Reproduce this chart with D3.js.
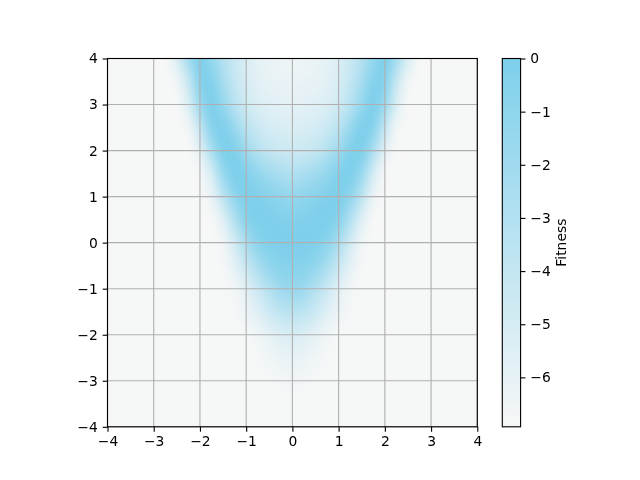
<!DOCTYPE html>
<html>
<head>
<meta charset="utf-8">
<script src="https://cdn.jsdelivr.net/npm/d3@7"></script>
<style>
  body { margin: 0; background: #ffffff; }
  #wrap { position: relative; width: 640px; height: 480px; }
  #wrap canvas, #wrap svg { position: absolute; left: 0; top: 0; }
  text { font-family: "DejaVu Sans", sans-serif; }
</style>
</head>
<body>
<div id="wrap">
  <canvas id="heat" width="640" height="480"></canvas>
  <svg id="chart" width="640" height="480"></svg>
</div>
<script>
// ---------------- data ----------------
const xValues = [-4,-3.75,-3.5,-3.25,-3,-2.75,-2.5,-2.25,-2,-1.75,-1.5,-1.25,-1,-0.75,-0.5,-0.25,0,0.25,0.5,0.75,1,1.25,1.5,1.75,2,2.25,2.5,2.75,3,3.25,3.5,3.75,4];
const yValues = [4,3.5,3,2.5,2,1.5,1,0.5,0,-0.5,-1,-1.5,-2,-2.5,-3,-3.5,-4];

// fitness[row for yValues][column for xValues]
const fitness = [
  [-6.9,-6.9,-6.9,-6.9,-6.9,-6.85,-5.3,-2.2,0,-1.3,-3.0,-4.4,-5.3,-5.9,-6.2,-6.35,-6.4,-6.35,-6.2,-5.9,-5.3,-4.4,-3.0,-1.3,0,-2.2,-5.3,-6.85,-6.9,-6.9,-6.9,-6.9,-6.9],
  [-6.9,-6.9,-6.9,-6.9,-6.9,-6.9,-6.5,-4.2,-0.5,-0.4,-2.4,-4.0,-5.1,-5.7,-6.0,-6.15,-6.2,-6.15,-6.0,-5.7,-5.1,-4.0,-2.4,-0.4,-0.5,-4.2,-6.5,-6.9,-6.9,-6.9,-6.9,-6.9,-6.9],
  [-6.9,-6.9,-6.9,-6.9,-6.9,-6.9,-6.9,-5.3,-1.7,0,-1.3,-3.3,-4.6,-5.3,-5.6,-5.8,-5.9,-5.8,-5.6,-5.3,-4.6,-3.3,-1.3,0,-1.7,-5.3,-6.9,-6.9,-6.9,-6.9,-6.9,-6.9,-6.9],
  [-6.9,-6.9,-6.9,-6.9,-6.9,-6.9,-6.9,-6.6,-4.0,-0.6,-0.05,-1.6,-3.4,-4.4,-5.0,-5.2,-5.3,-5.2,-5.0,-4.4,-3.4,-1.6,-0.05,-0.6,-4.0,-6.6,-6.9,-6.9,-6.9,-6.9,-6.9,-6.9,-6.9],
  [-6.9,-6.9,-6.9,-6.9,-6.9,-6.9,-6.9,-6.9,-5.8,-2.6,-0.1,-0.2,-1.8,-3.1,-3.9,-4.3,-4.5,-4.3,-3.9,-3.1,-1.8,-0.2,-0.1,-2.6,-5.8,-6.9,-6.9,-6.9,-6.9,-6.9,-6.9,-6.9,-6.9],
  [-6.9,-6.9,-6.9,-6.9,-6.9,-6.9,-6.9,-6.9,-6.8,-5.0,-1.6,0,-0.3,-1.2,-2.0,-2.6,-2.9,-2.6,-2.0,-1.2,-0.3,0,-1.6,-5.0,-6.8,-6.9,-6.9,-6.9,-6.9,-6.9,-6.9,-6.9,-6.9],
  [-6.9,-6.9,-6.9,-6.9,-6.9,-6.9,-6.9,-6.9,-6.9,-6.2,-3.6,-1.0,0,-0.2,-0.6,-1.0,-1.3,-1.0,-0.6,-0.2,0,-1.0,-3.6,-6.2,-6.9,-6.9,-6.9,-6.9,-6.9,-6.9,-6.9,-6.9,-6.9],
  [-6.9,-6.9,-6.9,-6.9,-6.9,-6.9,-6.9,-6.9,-6.9,-6.9,-5.6,-3.0,-0.6,0,-0.05,-0.2,-0.35,-0.2,-0.05,0,-0.6,-3.0,-5.6,-6.9,-6.9,-6.9,-6.9,-6.9,-6.9,-6.9,-6.9,-6.9,-6.9],
  [-6.9,-6.9,-6.9,-6.9,-6.9,-6.9,-6.9,-6.9,-6.9,-6.9,-6.5,-4.8,-2.5,-0.8,-0.15,-0.03,0,-0.03,-0.15,-0.8,-2.5,-4.8,-6.5,-6.9,-6.9,-6.9,-6.9,-6.9,-6.9,-6.9,-6.9,-6.9,-6.9],
  [-6.9,-6.9,-6.9,-6.9,-6.9,-6.9,-6.9,-6.9,-6.9,-6.9,-6.8,-5.8,-4.2,-2.5,-1.2,-0.6,-0.45,-0.6,-1.2,-2.5,-4.2,-5.8,-6.8,-6.9,-6.9,-6.9,-6.9,-6.9,-6.9,-6.9,-6.9,-6.9,-6.9],
  [-6.9,-6.9,-6.9,-6.9,-6.9,-6.9,-6.9,-6.9,-6.9,-6.9,-6.9,-6.6,-5.7,-4.4,-3.0,-1.8,-1.5,-1.8,-3.0,-4.4,-5.7,-6.6,-6.9,-6.9,-6.9,-6.9,-6.9,-6.9,-6.9,-6.9,-6.9,-6.9,-6.9],
  [-6.9,-6.9,-6.9,-6.9,-6.9,-6.9,-6.9,-6.9,-6.9,-6.9,-6.9,-6.8,-6.3,-5.5,-4.5,-3.7,-3.4,-3.7,-4.5,-5.5,-6.3,-6.8,-6.9,-6.9,-6.9,-6.9,-6.9,-6.9,-6.9,-6.9,-6.9,-6.9,-6.9],
  [-6.9,-6.9,-6.9,-6.9,-6.9,-6.9,-6.9,-6.9,-6.9,-6.9,-6.9,-6.9,-6.85,-6.5,-5.9,-5.35,-5.15,-5.35,-5.9,-6.5,-6.85,-6.9,-6.9,-6.9,-6.9,-6.9,-6.9,-6.9,-6.9,-6.9,-6.9,-6.9,-6.9],
  [-6.9,-6.9,-6.9,-6.9,-6.9,-6.9,-6.9,-6.9,-6.9,-6.9,-6.9,-6.9,-6.9,-6.8,-6.5,-6.2,-6.1,-6.2,-6.5,-6.8,-6.9,-6.9,-6.9,-6.9,-6.9,-6.9,-6.9,-6.9,-6.9,-6.9,-6.9,-6.9,-6.9],
  [-6.9,-6.9,-6.9,-6.9,-6.9,-6.9,-6.9,-6.9,-6.9,-6.9,-6.9,-6.9,-6.9,-6.9,-6.85,-6.7,-6.6,-6.7,-6.85,-6.9,-6.9,-6.9,-6.9,-6.9,-6.9,-6.9,-6.9,-6.9,-6.9,-6.9,-6.9,-6.9,-6.9],
  [-6.9,-6.9,-6.9,-6.9,-6.9,-6.9,-6.9,-6.9,-6.9,-6.9,-6.9,-6.9,-6.9,-6.9,-6.9,-6.9,-6.85,-6.9,-6.9,-6.9,-6.9,-6.9,-6.9,-6.9,-6.9,-6.9,-6.9,-6.9,-6.9,-6.9,-6.9,-6.9,-6.9],
  [-6.9,-6.9,-6.9,-6.9,-6.9,-6.9,-6.9,-6.9,-6.9,-6.9,-6.9,-6.9,-6.9,-6.9,-6.9,-6.9,-6.9,-6.9,-6.9,-6.9,-6.9,-6.9,-6.9,-6.9,-6.9,-6.9,-6.9,-6.9,-6.9,-6.9,-6.9,-6.9,-6.9]
];

const xTicks = [-4,-3,-2,-1,0,1,2,3,4];
const yTicks = [-4,-3,-2,-1,0,1,2,3,4];
const cbTicks = [0,-1,-2,-3,-4,-5,-6];
const colorRange = [-6.93, 0];
const colorbarLabel = "Fitness";

// ---------------- layout ----------------
const plot = { left: 107.5, right: 477.3, top: 58.5, bottom: 426.8 };
const cb = { left: 502.3, right: 520.6, top: 58.5, bottom: 426.8 };
const pt = 100 / 72;           // matplotlib points -> px
const fontPx = 10 * pt;
const tickLen = 3.5 * pt, tickPad = 3.5 * pt;
const lowColor = "#f7f7f7", highColor = "#7dcfeb";

const x = d3.scaleLinear().domain([-4, 4]).range([plot.left, plot.right]);
const y = d3.scaleLinear().domain([-4, 4]).range([plot.bottom, plot.top]);
const color = d3.scaleLinear().domain(colorRange).range([lowColor, highColor]).clamp(true);
const cbScale = d3.scaleLinear().domain(colorRange).range([cb.bottom, cb.top]);
const fmt = d => d < 0 ? "\u2212" + Math.abs(d) : String(d);

// ---------------- heatmap (canvas, smooth) ----------------
const nx = xValues.length, ny = yValues.length;
const off = document.createElement("canvas");
off.width = nx; off.height = ny;
const octx = off.getContext("2d");
const img = octx.createImageData(nx, ny);
fitness.forEach((row, j) => row.forEach((v, i) => {
  const c = d3.rgb(color(v));
  const k = (j * nx + i) * 4;
  img.data[k] = c.r; img.data[k + 1] = c.g; img.data[k + 2] = c.b; img.data[k + 3] = 255;
}));
octx.putImageData(img, 0, 0);

const ctx = document.getElementById("heat").getContext("2d");
ctx.save();
ctx.beginPath();
ctx.rect(x(-4), y(4), x(4) - x(-4), y(-4) - y(4));
ctx.clip();
ctx.imageSmoothingEnabled = true;
ctx.imageSmoothingQuality = "high";
const hx = (xValues[1] - xValues[0]) / 2, hy = (yValues[0] - yValues[1]) / 2;
const x0 = x(xValues[0] - hx), x1 = x(xValues[nx - 1] + hx);
const y0 = y(yValues[0] + hy), y1 = y(yValues[ny - 1] - hy);
ctx.drawImage(off, x0, y0, x1 - x0, y1 - y0);
ctx.restore();

// ---------------- svg overlay ----------------
const svg = d3.select("#chart");

// grid
const grid = svg.append("g").attr("stroke", "#b0b0b0").attr("stroke-width", 0.8 * pt);
grid.selectAll(".gx").data(xTicks).join("line")
  .attr("x1", d => x(d)).attr("x2", d => x(d)).attr("y1", plot.top).attr("y2", plot.bottom);
grid.selectAll(".gy").data(yTicks).join("line")
  .attr("y1", d => y(d)).attr("y2", d => y(d)).attr("x1", plot.left).attr("x2", plot.right);

// axes
const xAxis = d3.axisBottom(x).tickValues(xTicks).tickFormat(fmt).tickSize(tickLen).tickPadding(tickPad).tickSizeOuter(0);
const yAxis = d3.axisLeft(y).tickValues(yTicks).tickFormat(fmt).tickSize(tickLen).tickPadding(tickPad).tickSizeOuter(0);
function styleAxis(g) {
  g.select(".domain").remove();
  g.selectAll("line").attr("stroke", "#000").attr("stroke-width", 0.8 * pt);
  g.selectAll("text").attr("fill", "#000").style("font-size", fontPx + "px").style("font-family", "DejaVu Sans");
}
svg.append("g").attr("transform", `translate(0,${plot.bottom})`).call(xAxis).call(styleAxis);
svg.append("g").attr("transform", `translate(${plot.left},0)`).call(yAxis).call(styleAxis);

// spines
svg.append("rect")
  .attr("x", plot.left).attr("y", plot.top)
  .attr("width", plot.right - plot.left).attr("height", plot.bottom - plot.top)
  .attr("fill", "none").attr("stroke", "#000").attr("stroke-width", 0.8 * pt);

// colorbar
const defs = svg.append("defs");
const grad = defs.append("linearGradient").attr("id", "cbgrad")
  .attr("x1", 0).attr("y1", 1).attr("x2", 0).attr("y2", 0);
grad.selectAll("stop").data(d3.range(0, 1.0001, 0.1)).join("stop")
  .attr("offset", d => d)
  .attr("stop-color", d => color(colorRange[0] + d * (colorRange[1] - colorRange[0])));
svg.append("rect")
  .attr("x", cb.left).attr("y", cbScale(colorRange[1]))
  .attr("width", cb.right - cb.left).attr("height", cbScale(colorRange[0]) - cbScale(colorRange[1]))
  .attr("fill", "url(#cbgrad)")
  .attr("stroke", "#000").attr("stroke-width", 0.8 * pt);

const cbAxis = d3.axisRight(cbScale).tickValues(cbTicks).tickFormat(fmt).tickSize(tickLen).tickPadding(tickPad).tickSizeOuter(0);
svg.append("g").attr("transform", `translate(${cb.right},0)`).call(cbAxis).call(styleAxis);

svg.append("text")
  .attr("transform", `translate(566,${(cb.top + cb.bottom) / 2}) rotate(-90)`)
  .attr("text-anchor", "middle")
  .style("font-size", fontPx + "px")
  .attr("fill", "#000")
  .text(colorbarLabel);
</script>
</body>
</html>
